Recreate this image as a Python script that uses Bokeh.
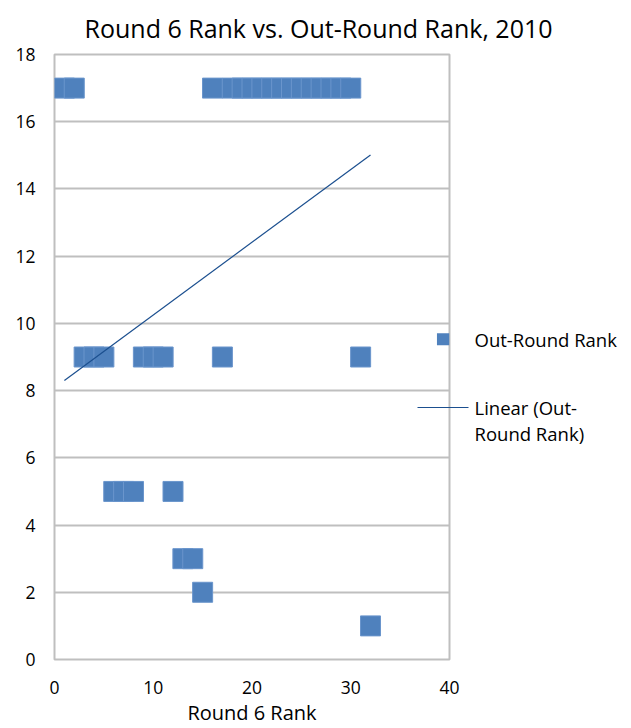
import numpy as np
from bokeh.plotting import figure
from bokeh.models import FixedTicker, Range1d, Title, LinearAxis, BoxAnnotation
from bokeh.embed import file_html
from bokeh.resources import INLINE

# ---- data ----
round6_rank = [1, 2, 3, 4, 5, 6, 7, 8, 9, 10, 11, 12, 13, 14, 15, 16,
               17, 18, 19, 20, 21, 22, 23, 24, 25, 26, 27, 28, 29, 30, 31, 32]
out_round_rank = [17, 17, 9, 9, 9, 5, 5, 5, 9, 9, 9, 5, 3, 3, 2, 17,
                  9, 17, 17, 17, 17, 17, 17, 17, 17, 17, 17, 17, 17, 17, 9, 1]
x_ticks = [0, 10, 20, 30, 40]
y_ticks = [0, 2, 4, 6, 8, 10, 12, 14, 16, 18]
title_text = "Round 6 Rank vs. Out-Round Rank, 2010"
x_label = "Round 6 Rank"
legend_texts = ["Out-Round Rank", "Linear (Out-", "Round Rank)"]

# legend placement (y positions in chart units, beside the plot area)
LEGEND_Y = [9.53, 7.51, 6.71]

FONT = "Open Sans"
BLUE = "#4F81BD"
TREND = "#1B4F8F"
GRID = "#BFBFBF"

p = figure(width=631, height=728, x_range=Range1d(0, 40), y_range=Range1d(0, 18),
           output_backend="svg", toolbar_location=None,
           min_border_left=54, min_border_right=182, min_border_top=54, min_border_bottom=68)
p.background_fill_color = "white"
p.border_fill_color = "white"
p.outline_line_color = GRID
p.outline_line_width = 2

p.xgrid.visible = False
p.ygrid.grid_line_color = GRID
p.ygrid.grid_line_width = 2
p.ygrid.ticker = FixedTicker(ticks=y_ticks)

for ax in (p.xaxis[0], p.yaxis[0]):
    ax.axis_line_color = None
    ax.major_tick_line_color = None
    ax.minor_tick_line_color = None
    ax.major_tick_out = 0
    ax.major_tick_in = 0
    ax.minor_tick_out = 0
    ax.major_label_text_font = FONT
    ax.major_label_text_font_size = "17.5px"
    ax.major_label_text_color = "black"

p.xaxis.ticker = FixedTicker(ticks=x_ticks)
p.yaxis.ticker = FixedTicker(ticks=y_ticks)
p.xaxis.major_label_standoff = 21
p.yaxis.major_label_standoff = 19
p.xaxis.axis_label = x_label
p.xaxis.axis_label_text_font = FONT
p.xaxis.axis_label_text_font_size = "20px"
p.xaxis.axis_label_text_font_style = "normal"
p.xaxis.axis_label_text_color = "black"
p.xaxis.axis_label_standoff = 2

# title
p.add_layout(Title(text=title_text, align="left", offset=30, standoff=16,
                   vertical_align="top",
                   text_font=FONT, text_font_size="25px", text_font_style="normal",
                   text_color="black"), "above")

# points
p.scatter(round6_rank, out_round_rank, marker="square", size=20,
          fill_color=BLUE, line_color="#6A95CC", line_width=1)

# linear trendline (least squares fit of the data)
slope, intercept = np.polyfit(round6_rank, out_round_rank, 1)
xs = [min(round6_rank), max(round6_rank)]
p.line(xs, [slope * v + intercept for v in xs], line_color=TREND, line_width=1.2)

# ---- legend (drawn beside the plot area) ----
# marker sample
p.add_layout(BoxAnnotation(left=38.73, right=40.0, bottom=LEGEND_Y[0] - 0.178,
                           top=LEGEND_Y[0] + 0.178, fill_color=BLUE, fill_alpha=1,
                           line_color=None))
# line sample: a single tick crossing the plot border
sample_axis = LinearAxis(ticker=FixedTicker(ticks=[LEGEND_Y[1]], minor_ticks=[]),
                         major_label_overrides={LEGEND_Y[1]: ""},
                         major_tick_in=32, major_tick_out=19,
                         major_tick_line_color=TREND, major_tick_line_width=1,
                         axis_line_color=None, minor_tick_line_color=None,
                         major_label_standoff=0, major_label_text_font_size="1px")
p.add_layout(sample_axis, "right")
# legend texts
text_axis = LinearAxis(ticker=FixedTicker(ticks=LEGEND_Y, minor_ticks=[]),
                       major_label_overrides=dict(zip(LEGEND_Y, legend_texts)),
                       major_tick_in=0, major_tick_out=0, major_tick_line_color=None,
                       axis_line_color=None, minor_tick_line_color=None,
                       major_label_standoff=6, major_label_text_font=FONT,
                       major_label_text_font_size="18.5px", major_label_text_color="black")
p.add_layout(text_axis, "right")

open("out.html", "w").write(file_html(p, INLINE))
